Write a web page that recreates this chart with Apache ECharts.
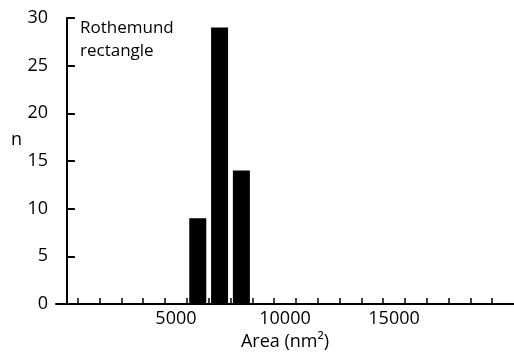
<!DOCTYPE html>
<html>
<head>
<meta charset="utf-8">
<script src="https://cdn.jsdelivr.net/npm/echarts@6/dist/echarts.min.js"></script>
<style>
  html, body { margin: 0; padding: 0; background: #fff; }
  #chart { width: 514px; height: 352px; }
</style>
</head>
<body>
<div id="chart"></div>
<script>
// histogram bins (bin centres, nm^2) and counts
var binCentres = [6000, 7000, 8000];
var counts = [9, 29, 14];
// bin edges drawn as ticks, and the labelled values
var xTicks = [500, 1500, 2500, 3500, 4500, 5500, 6500, 7500, 8500, 9500, 10500,
  11500, 12500, 13500, 14500, 15500, 16500, 17500, 18500, 19500];
var xLabels = [5000, 10000, 15000];

var font = '"Open Sans", "Noto Sans", sans-serif';

var chart = echarts.init(document.getElementById('chart'));
var option = {
  animation: false,
  textStyle: { fontFamily: font },
  grid: { left: 56, right: 0, top: 18, bottom: 48, containLabel: false, outerBoundsMode: 'none' },
  xAxis: {
    type: 'value',
    min: -500,
    max: 20500,
    name: 'Area (nm²)',
    nameLocation: 'middle',
    nameGap: 27,
    nameTextStyle: { fontSize: 18, color: '#000', fontFamily: font },
    splitLine: { show: false },
    axisLine: { lineStyle: { color: '#000', width: 2 } },
    axisTick: { inside: true, length: 6, lineStyle: { color: '#000', width: 1.5 }, customValues: xTicks },
    axisLabel: {
      fontSize: 18, color: '#000', margin: 6, fontFamily: font, customValues: xLabels,
      formatter: function (v) { return String(v); }
    }
  },
  yAxis: {
    type: 'value',
    min: 0,
    max: 30,
    interval: 5,
    splitLine: { show: false },
    axisLine: { show: true, lineStyle: { color: '#000', width: 2 } },
    axisTick: { show: true, inside: true, length: 8, lineStyle: { color: '#000', width: 2 } },
    axisLabel: { fontSize: 18, color: '#000', margin: 8, fontFamily: font }
  },
  graphic: [
    { type: 'text', left: 11, top: 131, style: { text: 'n', fontSize: 18, fill: '#000', fontFamily: font } },
    { type: 'text', left: 80, top: 17, style: { text: 'Rothemund\nrectangle', fontSize: 17, lineHeight: 23, fill: '#000', fontFamily: font } }
  ],
  series: [{
    type: 'bar',
    barWidth: 17,
    itemStyle: { color: '#000' },
    data: binCentres.map(function (x, i) { return [x, counts[i]]; })
  }]
};
chart.setOption(option);
</script>
</body>
</html>
